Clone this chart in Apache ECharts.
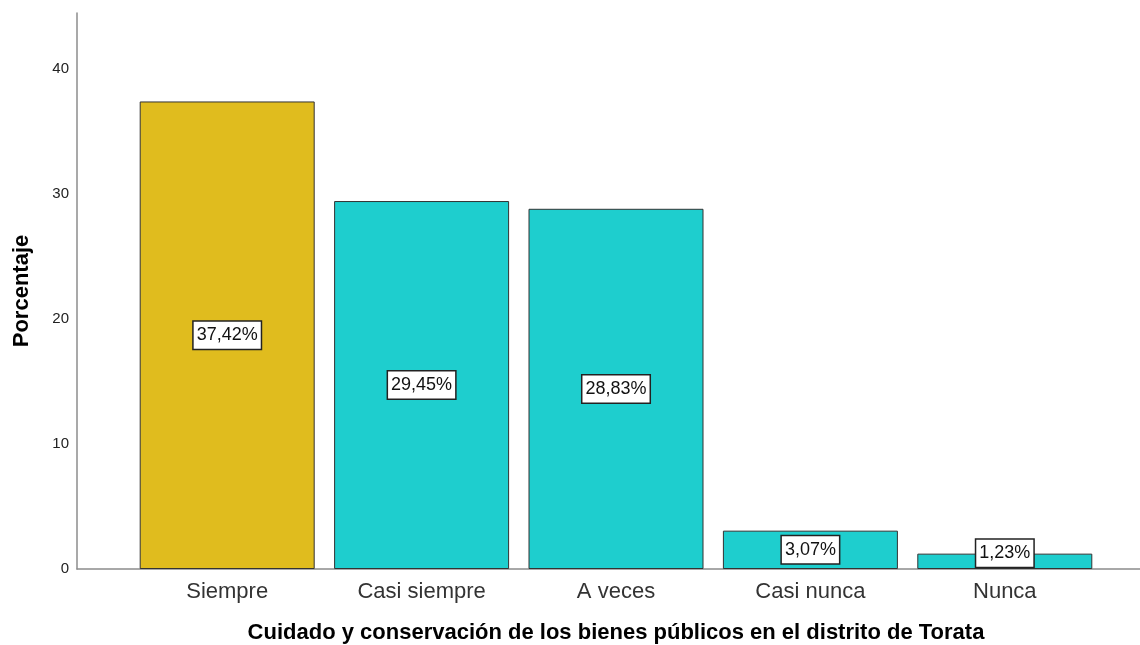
<!DOCTYPE html>
<html>
<head>
<meta charset="utf-8">
<script src="https://cdn.jsdelivr.net/npm/echarts@6/dist/echarts.min.js"></script>
<style>
  html, body { margin: 0; padding: 0; background: #fff; }
  #chart { width: 1140px; height: 645px; }
</style>
</head>
<body>
<div id="chart"></div>
<script>
const categories = ['Siempre', 'Casi siempre', 'A veces', 'Casi nunca', 'Nunca']
const percentages = [37.42, 29.45, 28.83, 3.07, 1.23]
const yTicks = [0, 10, 20, 30, 40]

const barColors = ['#E0BC1E', '#1ECECE', '#1ECECE', '#1ECECE', '#1ECECE']

const chart = echarts.init(document.getElementById('chart'))

const option = {
  animation: false,
  textStyle: { fontFamily: 'Liberation Sans, Arial, sans-serif' },
  grid: [
    // axis frame (line spans full width)
    { left: 77, right: 0, top: 13, bottom: 76, outerBoundsMode: 'none', containLabel: false },
    // bars
    { left: 130, right: 38, top: 13, bottom: 76, outerBoundsMode: 'none', containLabel: false }
  ],
  xAxis: [
    {
      gridIndex: 0,
      type: 'value',
      min: 0,
      max: 1,
      axisLine: { show: true, lineStyle: { color: '#8c8c8c', width: 1.5 } },
      axisTick: { show: false },
      axisLabel: { show: false },
      splitLine: { show: false }
    },
    {
      gridIndex: 1,
      type: 'category',
      data: categories,
      axisLine: { show: false },
      axisTick: { show: false },
      axisLabel: { fontSize: 22, color: '#333', margin: 12 },
      name: 'Cuidado y conservación de los bienes públicos en el distrito de Torata',
      nameLocation: 'middle',
      nameGap: 53,
      nameTextStyle: { fontSize: 22, fontWeight: 'bold', color: '#000' }
    }
  ],
  yAxis: [
    {
      gridIndex: 0,
      type: 'value',
      min: yTicks[0],
      max: 44.5,
      interval: 10,
      axisLine: { show: true, lineStyle: { color: '#8c8c8c', width: 1.5 } },
      axisTick: { show: false },
      axisLabel: { fontSize: 15, color: '#222', margin: 8, showMaxLabel: false },
      splitLine: { show: false },
      name: 'Porcentaje',
      nameLocation: 'middle',
      nameGap: 44,
      nameTextStyle: { fontSize: 22, fontWeight: 'bold', color: '#000' }
    },
    {
      gridIndex: 1,
      type: 'value',
      min: 0,
      max: 44.5,
      show: false
    }
  ],
  series: [
    {
      type: 'bar',
      xAxisIndex: 1,
      yAxisIndex: 1,
      barWidth: 175,
      data: percentages.map((v, i) => ({
        value: v,
        itemStyle: { color: barColors[i] },
        label: i === 4 ? { offset: [0, -8] } : undefined
      })),
      itemStyle: { borderColor: '#333', borderWidth: 1 },
      label: {
        show: true,
        position: 'inside',
        formatter: p => p.value.toFixed(2).replace('.', ',') + '%',
        fontSize: 18,
        color: '#111',
        backgroundColor: '#fff',
        borderColor: '#222',
        borderWidth: 1.5,
        padding: [5, 3, 4, 3]
      }
    }
  ]
}

chart.setOption(option)
</script>
</body>
</html>
